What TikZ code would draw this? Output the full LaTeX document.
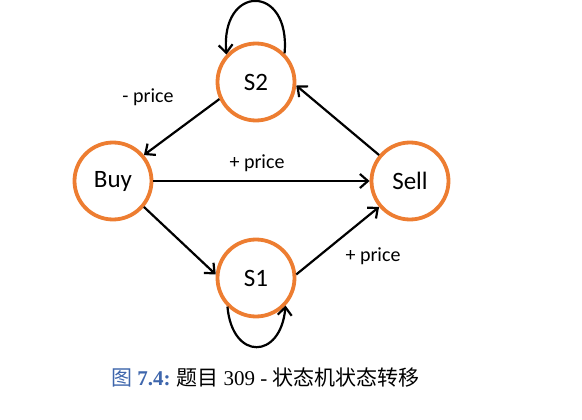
\documentclass[tikz,border=0pt]{standalone}
\usepackage{fontspec}
\setmainfont{Carlito}
\newfontfamily\cjk{Noto Sans CJK SC}
\newfontfamily\capserif{Liberation Serif}
\usetikzlibrary{arrows.meta}
\definecolor{stateorange}{RGB}{237,125,49}
\definecolor{capblue}{RGB}{62,102,172}
\begin{document}
\begin{tikzpicture}[x=1pt,y=-1pt,
  state/.style={circle,draw=stateorange,line width=3.8pt,minimum size=77pt,inner sep=0pt,font=\fontsize{25}{28}\selectfont},
  arr/.style={line width=2.2pt,-{Straight Barb[length=8pt,width=14pt,line width=2.2pt]}},
  lbl/.style={font=\fontsize{20}{22}\selectfont}]
\useasboundingbox (0,0) rectangle (582,420);
\node[state] (Buy) at (113,181) {Buy};
\node[state] (S2) at (256,82) {S2};
\node[state] (S1) at (256,278) {S1};
\node[state] (Sell) at (410,181) {Sell};
\draw[arr] (S2.205) -- (Buy.40);
\draw[arr] (Buy.east) -- (Sell.west);
\draw[arr] (Buy.-40) -- (S1.175);
\draw[arr] (S1.5) -- (Sell.-140);
\draw[arr] (Sell.140) -- (S2.-5);
\draw[arr] (S2.45) to[out=85,in=95,looseness=3.1] (S2.137);
\draw[arr] (S1.-135) to[out=-85,in=-95,looseness=2.4] (S1.-43);
\node[lbl] (l1) at (148,97) {- price};
\node[lbl] (l2) at (257,163) {+ price};
\node[lbl] (l3) at (373,256) {+ price};
\node[anchor=west,font=\fontsize{21}{24}\selectfont] (cap) at (108,378)
  {\textcolor{capblue}{\cjk 图} \textcolor{capblue}{\capserif\bfseries 7.4:} {\cjk 题目} {\capserif 309 -} {\cjk 状态机状态转移}};
\end{tikzpicture}
\end{document}
